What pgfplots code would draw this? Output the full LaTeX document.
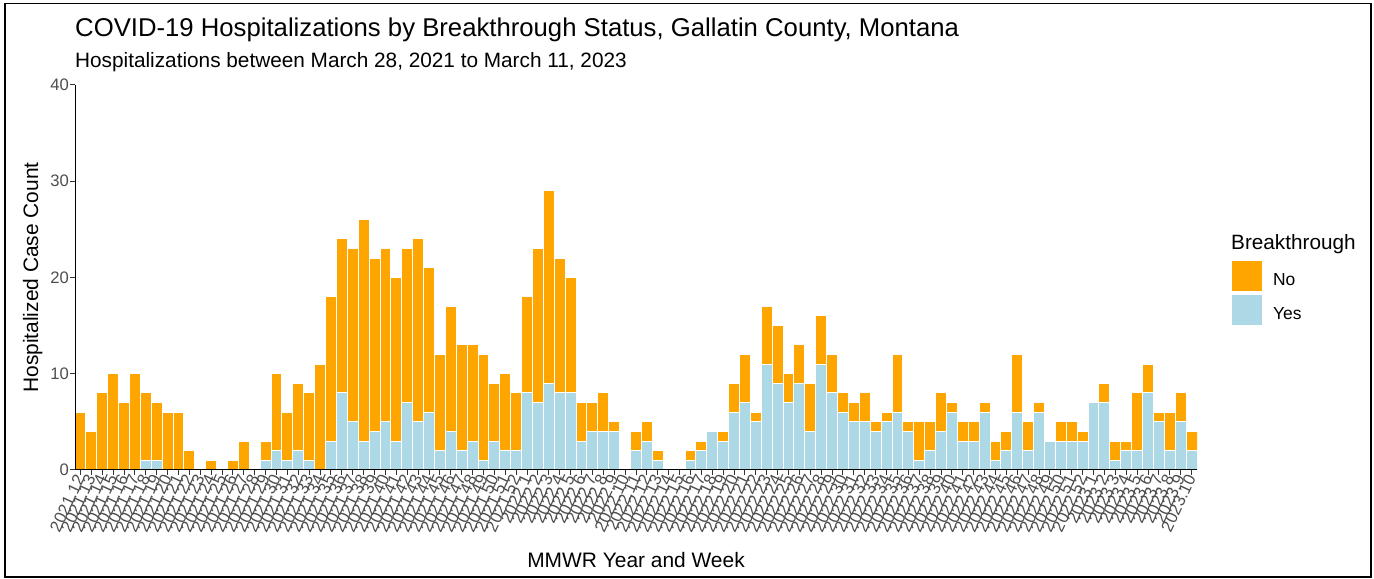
\documentclass[border=0pt]{standalone}
\usepackage{fontspec}
\setmainfont{Liberation Sans}
\usepackage{pgfplots}
\pgfplotsset{compat=1.18}
\usepackage{pgfplotstable}
\definecolor{barorange}{HTML}{FFA500}
\definecolor{barblue}{HTML}{ADD8E6}
\definecolor{gray30}{HTML}{4D4D4D}
\definecolor{gray20}{HTML}{333333}

\pgfplotstableread{
x yes no
1 0 6
2 0 4
3 0 8
4 0 10
5 0 7
6 0 10
7 1 7
8 1 6
9 0 6
10 0 6
11 0 2
12 0 0
13 0 1
14 0 0
15 0 1
16 0 3
17 0 0
18 1 2
19 2 8
20 1 5
21 2 7
22 1 7
23 0 11
24 3 15
25 8 16
26 5 18
27 3 23
28 4 18
29 5 18
30 3 17
31 7 16
32 5 19
33 6 15
34 2 10
35 4 13
36 2 11
37 3 10
38 1 11
39 3 6
40 2 8
41 2 6
42 8 10
43 7 16
44 9 20
45 8 14
46 8 12
47 3 4
48 4 3
49 4 4
50 4 1
51 0 0
52 2 2
53 3 2
54 1 1
55 0 0
56 0 0
57 1 1
58 2 1
59 4 0
60 3 1
61 6 3
62 7 5
63 5 1
64 11 6
65 9 6
66 7 3
67 9 4
68 4 5
69 11 5
70 8 4
71 6 2
72 5 2
73 5 3
74 4 1
75 5 1
76 6 6
77 4 1
78 1 4
79 2 3
80 4 4
81 6 1
82 3 2
83 3 2
84 6 1
85 1 2
86 2 2
87 6 6
88 2 3
89 6 1
90 3 0
91 3 2
92 3 2
93 3 1
94 7 0
95 7 2
96 1 2
97 2 1
98 2 6
99 8 3
100 5 1
101 2 4
102 5 3
103 2 2
}\hosp

\begin{document}
\begin{tikzpicture}[x=1bp,y=1bp]
\useasboundingbox (0,0) rectangle (1374,579);
\begin{axis}[
  at={(75bp,109bp)}, anchor=south west,
  scale only axis, width=1122bp, height=385bp,
  ybar stacked, bar width=1,
  xmin=0.5, xmax=103.5, ymin=0, ymax=40,
  xtick={1,...,103},
  xticklabels={2021.12,2021.13,2021.14,2021.15,2021.16,2021.17,2021.18,2021.19,2021.20,2021.21,2021.22,2021.23,2021.24,2021.25,2021.26,2021.27,2021.28,2021.29,2021.30,2021.31,2021.32,2021.33,2021.34,2021.35,2021.36,2021.37,2021.38,2021.39,2021.40,2021.41,2021.42,2021.43,2021.44,2021.45,2021.46,2021.47,2021.48,2021.49,2021.50,2021.51,2021.52,2022.1,2022.2,2022.3,2022.4,2022.5,2022.6,2022.7,2022.8,2022.9,2022.10,2022.11,2022.12,2022.13,2022.14,2022.15,2022.16,2022.17,2022.18,2022.19,2022.20,2022.21,2022.22,2022.23,2022.24,2022.25,2022.26,2022.27,2022.28,2022.29,2022.30,2022.31,2022.32,2022.33,2022.34,2022.35,2022.36,2022.37,2022.38,2022.39,2022.40,2022.41,2022.42,2022.43,2022.44,2022.45,2022.46,2022.47,2022.48,2022.49,2022.50,2022.51,2022.52,2023.1,2023.2,2023.3,2023.4,2023.5,2023.6,2023.7,2023.8,2023.9,2023.10},
  ytick={0,10,20,30,40},
  /pgf/number format/assume math mode=true,
  axis lines=left,
  axis line style={-, black, line width=1bp},
  tick style={gray20, line width=1bp},
  major tick length=5bp,
  tick align=outside,
  axis on top,
  x tick label style={rotate=65, anchor=east, font=\fontsize{16.7}{16.7}\selectfont, text=gray30, inner sep=1bp},
  y tick label style={font=\fontsize{16.7}{16.7}\selectfont, text=gray30, inner sep=1bp},
  xlabel={MMWR Year and Week},
  ylabel={Hospitalized Case Count},
  every axis x label/.style={at={(axis description cs:0.5,0)}, anchor=base, yshift=-97bp, font=\fontsize{21}{21}\selectfont},
  every axis y label/.style={at={(axis description cs:-0.03298,0.5)}, rotate=90, anchor=base, font=\fontsize{21}{21}\selectfont},
  reverse legend,
  legend style={draw=none, fill=none, at={(axis description cs:1.0303,0.5455)}, anchor=north west, inner sep=0pt, outer sep=0pt, row sep=2bp, nodes={inner sep=0pt, anchor=base west}, font=\fontsize{17.5}{17.5}\selectfont, /tikz/every odd column/.append style={column sep=10bp}},
  legend image code/.code={\fill[#1] (0bp,-6bp) rectangle (31bp,25bp);},
]
\addplot[fill=barblue, draw=white, line width=1bp] table[x=x, y=yes] {\hosp};
\addplot[fill=barorange, draw=white, line width=1bp] table[x=x, y=no] {\hosp};
\legend{Yes,No}
\end{axis}
\node[anchor=base west, inner sep=0pt, font=\fontsize{25.8}{25.8}\selectfont] at (75,542) {COVID-19 Hospitalizations by Breakthrough Status, Gallatin County, Montana};
\node[anchor=base west, inner sep=0pt, font=\fontsize{20.85}{20.85}\selectfont] at (75,511) {Hospitalizations between March 28, 2021 to March 11, 2023};
\node[anchor=base west, inner sep=0pt, font=\fontsize{20.8}{20.8}\selectfont] at (1231,329) {Breakthrough};
\draw[line width=1.3bp] (5,2) rectangle (1371,575.5);
\end{tikzpicture}
\end{document}
